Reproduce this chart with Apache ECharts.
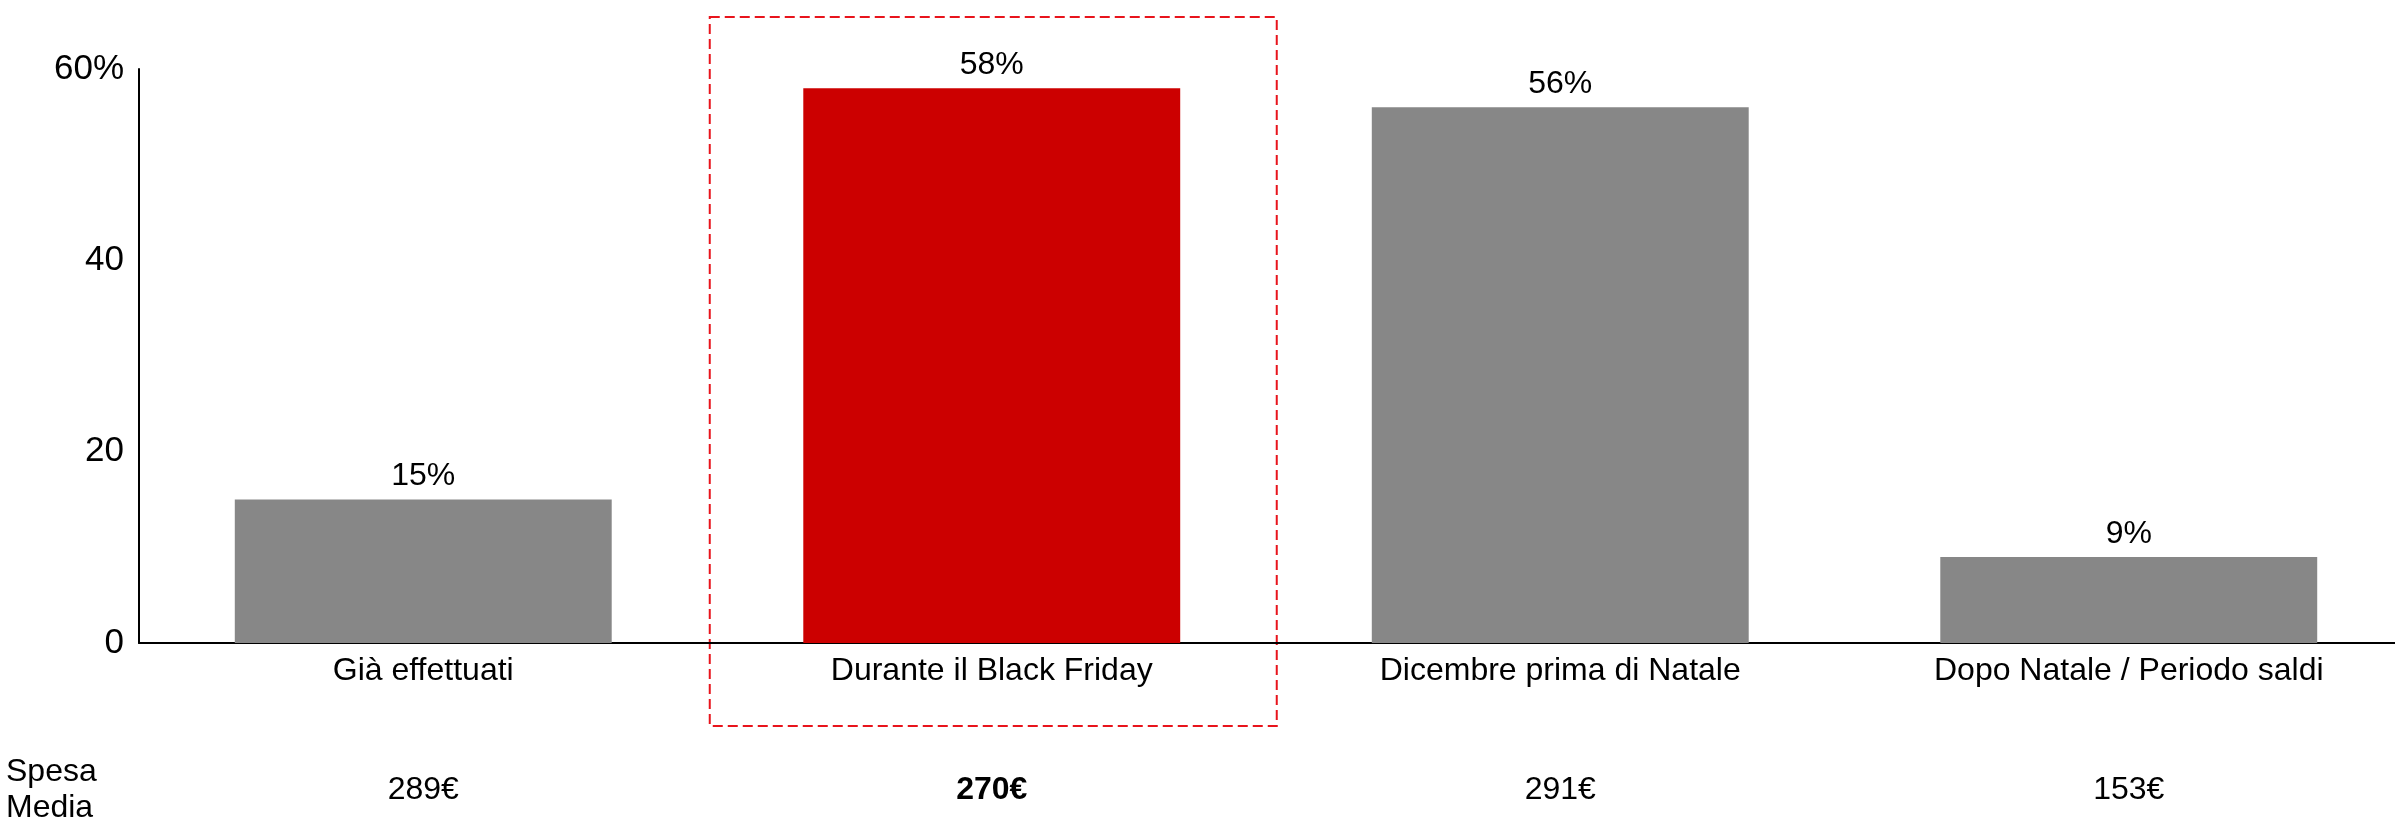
<!DOCTYPE html>
<html>
<head>
<meta charset="utf-8">
<script src="https://cdn.jsdelivr.net/npm/echarts@6/dist/echarts.min.js"></script>
<style>
html,body{margin:0;padding:0;background:#fff;overflow:hidden;}
#chart{width:2413px;height:817px;}
</style>
</head>
<body>
<div id="chart"></div>
<script>
const categories = ['Già effettuati', 'Durante il Black Friday', 'Dicembre prima di Natale', 'Dopo Natale / Periodo saldi'];
const shares = [15, 58, 56, 9];
const spending = ['289€', '270€', '291€', '153€'];
const highlightIndex = 1;
const rowTitle = 'Spesa\nMedia';

const FONT = '"Liberation Sans", Arial, sans-serif';
const chart = echarts.init(document.getElementById('chart'));

const option = {
  animation: false,
  backgroundColor: '#fff',
  grid: { left: 139, right: 0, top: 69, bottom: 174, outerBoundsMode: 'none' },
  xAxis: [
    {
      type: 'category',
      data: categories,
      axisLine: { show: true, lineStyle: { color: '#000', width: 2 } },
      axisTick: { show: false },
      axisLabel: { color: '#000', fontSize: 32, fontFamily: FONT, margin: 12, interval: 0 }
    },
    {
      type: 'category',
      data: spending,
      position: 'bottom',
      offset: 131,
      axisLine: { show: false },
      axisTick: { show: false },
      axisLabel: {
        interval: 0,
        margin: 0,
        formatter: (v, i) => i === highlightIndex ? '{b|' + v + '}' : '{n|' + v + '}',
        rich: {
          n: { fontSize: 32, fontFamily: FONT, color: '#000' },
          b: { fontSize: 32, fontFamily: FONT, color: '#000', fontWeight: 'bold' }
        }
      }
    }
  ],
  yAxis: {
    type: 'value',
    min: 0, max: 60, interval: 20,
    splitLine: { show: false },
    axisLine: { show: true, lineStyle: { color: '#000', width: 2 } },
    axisTick: { show: false },
    axisLabel: {
      color: '#000', fontSize: 35, fontFamily: FONT, margin: 15,
      formatter: v => v === 60 ? '60%' : String(v)
    }
  },
  series: [{
    type: 'bar',
    xAxisIndex: 0,
    barCategoryGap: '33.7%',
    data: shares.map((v, i) => ({
      value: v,
      itemStyle: { color: i === highlightIndex ? '#cc0000' : '#878787' }
    })),
    label: {
      show: true, position: 'top', distance: 7,
      color: '#000', fontSize: 32, fontFamily: FONT,
      formatter: p => p.value + '%'
    }
  }]
};
chart.setOption(option);

const cx = chart.convertToPixel({ xAxisIndex: 0 }, categories[highlightIndex]);
chart.setOption({
  graphic: [
    {
      type: 'rect',
      shape: { x: cx - 282, y: 17, width: 567, height: 709 },
      style: { fill: 'none', stroke: '#e8141c', lineWidth: 2, lineDash: [10, 5] },
      silent: true
    },
    {
      type: 'text',
      left: 6, top: 754,
      style: { text: rowTitle, fontSize: 32, fontFamily: FONT, fill: '#000', lineHeight: 36 }
    }
  ]
});
</script>
</body>
</html>
